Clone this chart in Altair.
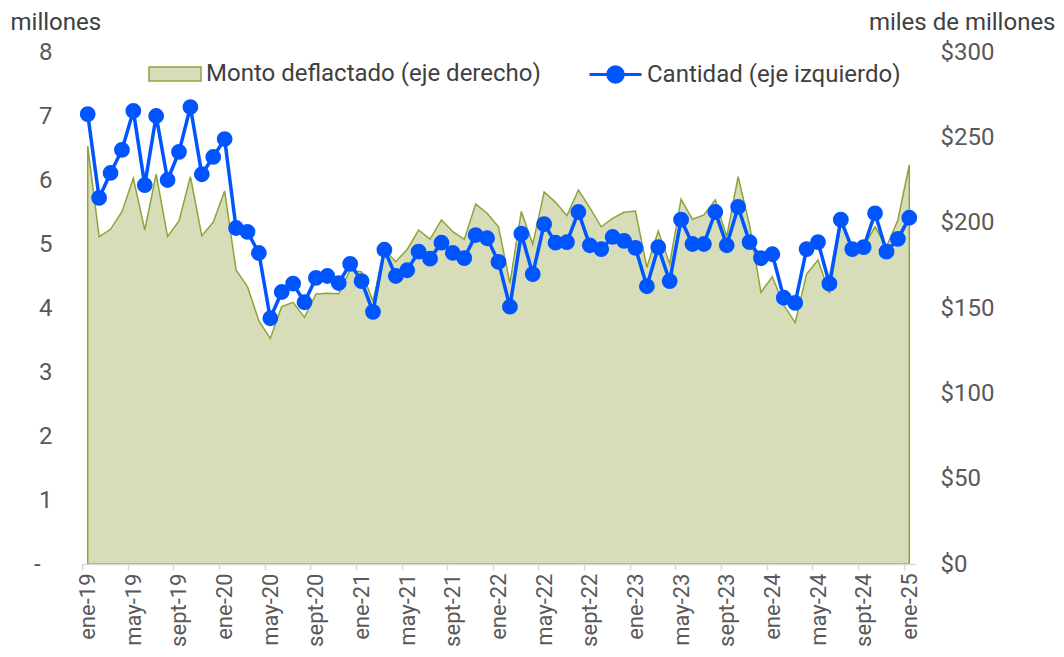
import json
import altair as alt
import pandas as pd

# ---- data ----
tick_labels = ["ene-19", "may-19", "sept-19", "ene-20", "may-20", "sept-20",
               "ene-21", "may-21", "sept-21", "ene-22", "may-22", "sept-22",
               "ene-23", "may-23", "sept-23", "ene-24", "may-24", "sept-24",
               "ene-25"]

# Cantidad (millones), eje izquierdo, ene-19 .. ene-25
cantidad = [7.03, 5.72, 6.11, 6.47, 7.08, 5.92, 7.00, 6.00, 6.44, 7.14, 6.09, 6.36,
            6.64, 5.25, 5.19, 4.86, 3.84, 4.25, 4.38, 4.09, 4.47, 4.50, 4.39, 4.69,
            4.42, 3.94, 4.91, 4.50, 4.59, 4.88, 4.77, 5.02, 4.86, 4.78, 5.14, 5.09,
            4.72, 4.02, 5.16, 4.53, 5.31, 5.02, 5.03, 5.50, 4.98, 4.92, 5.11, 5.05,
            4.94, 4.34, 4.95, 4.42, 5.38, 5.00, 5.00, 5.50, 4.98, 5.58, 5.03, 4.78,
            4.84, 4.16, 4.08, 4.92, 5.03, 4.38, 5.38, 4.92, 4.95, 5.48, 4.88, 5.08,
            5.41]

# Monto deflactado (miles de millones), eje derecho
monto = [244.9, 191.8, 196.1, 206.4, 226.0, 195.7, 228.5, 191.8, 201.0, 226.9, 192.4, 200.2,
         218.5, 172.3, 162.5, 142.5, 132.2, 150.8, 153.3, 144.5, 158.2, 158.6, 158.4, 172.3,
         171.1, 154.1, 184.0, 177.1, 184.4, 195.7, 190.4, 201.6, 194.7, 190.2, 210.9, 205.5,
         197.6, 164.5, 206.6, 187.3, 218.0, 211.9, 204.1, 219.1, 208.8, 197.6, 202.5, 206.1,
         206.8, 173.8, 195.1, 175.8, 213.7, 202.0, 204.5, 213.3, 191.8, 226.9, 198.6, 159.2,
         168.3, 151.7, 141.4, 169.9, 178.1, 158.6, 199.6, 186.9, 185.9, 197.6, 185.9, 201.6,
         233.8]

left_ticks = [0, 1, 2, 3, 4, 5, 6, 7, 8]
right_ticks = [0, 50, 100, 150, 200, 250, 300]

serie_monto = "Monto deflactado (eje derecho)"
serie_cant = "Cantidad (eje izquierdo)"

n = len(cantidad)
df = pd.DataFrame({
    "i": list(range(n)),
    "cantidad": cantidad,
    "monto": monto,
    "s_m": serie_monto,
    "s_c": serie_cant,
})

# ---- style ----
FONT = "Roboto"
FS = 24
FSX = 22
BLUE = "#0055FF"
FILL = "#D7DDB8"
OLIVE = "#8FA33B"
LABEL = "#595959"
TEXT = "#404040"
W, H = 833, 512
half_band = W / n / 2

x = alt.X(
    "i:Q",
    scale=alt.Scale(domain=[-0.5, n - 0.5], nice=False, zero=False),
    axis=alt.Axis(
        values=list(range(0, n, 4)),
        labelExpr=json.dumps(tick_labels) + "[round(datum.value / 4)]",
        labelAngle=270, labelAlign="right", labelBaseline="middle",
        labelPadding=3, labelFlush=False, labelOverlap=False,
        tickSize=6, tickOffset=-half_band, labelOffset=half_band,
        tickColor="#D9D9D9", domainColor="#D9D9D9", domainWidth=1.5, tickWidth=1.5,
        grid=False, title=None, labelFontSize=FSX, labelColor=LABEL, labelFont=FONT,
        zindex=1,
    ),
)

area = alt.Chart(df).mark_area(stroke=OLIVE, strokeWidth=1.5).encode(
    x=x,
    y=alt.Y(
        "monto:Q",
        scale=alt.Scale(domain=[0, 300], nice=False),
        axis=alt.Axis(
            orient="right", values=right_ticks, labelExpr="'$' + datum.value",
            domain=False, ticks=False, grid=False, labelPadding=25,
            labelFontSize=FS, labelColor=LABEL, labelFont=FONT,
            title="miles de millones", titleAngle=0, titleAlign="right",
            titleBaseline="top", titleX=140, titleY=-42,
            titleFontSize=FS, titleFontWeight="normal", titleColor=TEXT, titleFont=FONT,
        ),
    ),
    fill=alt.Fill(
        "s_m:N", scale=alt.Scale(range=[FILL]),
        legend=alt.Legend(
            title=None, orient="none", legendX=66, legendY=-5, padding=0,
            symbolType="M-1,-0.27H1V0.27H-1Z", symbolSize=2704,
            symbolFillColor=FILL, symbolStrokeColor=OLIVE, symbolStrokeWidth=1.5,
            labelFontSize=FS, labelFont=FONT, labelColor=TEXT, labelLimit=600,
            labelOffset=4,
        ),
    ),
)

line = alt.Chart(df).mark_line(
    strokeWidth=3.5,
    point=alt.OverlayMarkDef(filled=True, size=190, color=BLUE),
).encode(
    x=x,
    y=alt.Y(
        "cantidad:Q",
        scale=alt.Scale(domain=[0, 8], nice=False),
        axis=alt.Axis(
            orient="left", values=left_ticks,
            labelExpr="datum.value == 0 ? '-\u00a0\u00a0\u200b' : datum.value",
            domain=False, ticks=False, grid=False, labelPadding=30,
            labelFontSize=FS, labelColor=LABEL, labelFont=FONT,
            title="millones", titleAngle=0, titleAlign="left",
            titleBaseline="top", titleX=-72, titleY=-42,
            titleFontSize=FS, titleFontWeight="normal", titleColor=TEXT, titleFont=FONT,
        ),
    ),
    stroke=alt.Stroke(
        "s_c:N", scale=alt.Scale(range=[BLUE]),
        legend=alt.Legend(
            title=None, orient="none", legendX=506, legendY=-5, padding=0,
            symbolType="M-1,0H1M0.3,0A0.3,0.3,0,1,1,-0.3,0A0.3,0.3,0,1,1,0.3,0",
            symbolSize=2704, symbolFillColor=BLUE, symbolStrokeColor=BLUE,
            symbolStrokeWidth=3,
            labelFontSize=FS, labelFont=FONT, labelColor=TEXT, labelLimit=600,
            labelOffset=4,
        ),
    ),
)

chart = alt.layer(area, line).resolve_scale(y="independent").properties(
    width=W, height=H,
    autosize=alt.AutoSizeParams(type="none"),
    padding={"left": 74, "top": 44, "right": 141, "bottom": 85},
    background="white",
).configure_view(stroke=None)

chart.save("out.html", embed_options={"renderer": "svg", "actions": False})
